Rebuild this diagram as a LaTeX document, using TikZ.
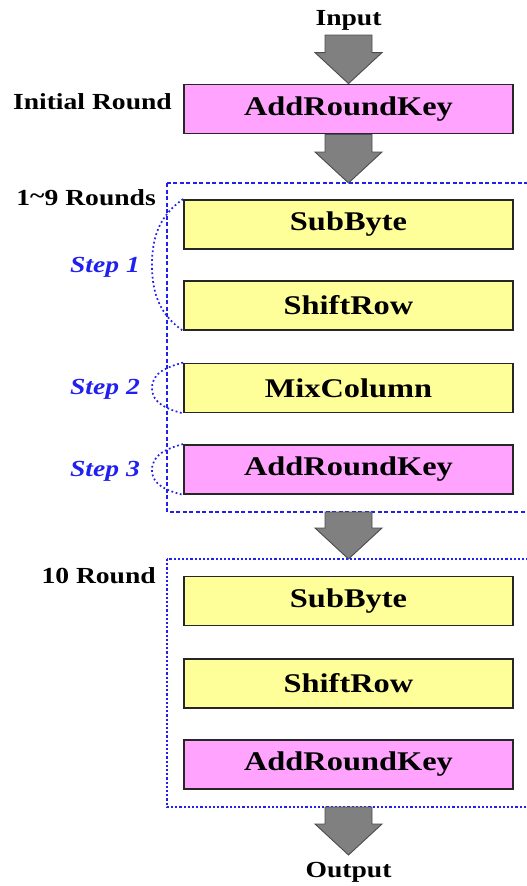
\documentclass[tikz,border=0pt]{standalone}
\usepackage{fontspec}
\setmainfont{Liberation Serif}[FakeStretch=1.2]
\usetikzlibrary{calc}
\definecolor{keypink}{HTML}{FFA3FF}
\definecolor{stepyellow}{HTML}{FFFF99}
\definecolor{arrowgray}{HTML}{808080}
\definecolor{framblue}{HTML}{2020F0}
\tikzset{
  opbox/.style={draw=black!85, line width=1.8pt, minimum width=329pt,
    minimum height=49pt, inner sep=0pt,
    font=\fontsize{27}{30}\selectfont\bfseries},
  keybox/.style={opbox, fill=keypink},
  stepbox/.style={opbox, fill=stepyellow},
  lbl/.style={font=\fontsize{23}{26}\selectfont\bfseries, inner sep=0pt},
  steplbl/.style={lbl, font=\fontsize{23}{26}\selectfont\bfseries\itshape, text=framblue},
  frame/.style={draw=framblue, line width=1.5pt, dash pattern=on 4pt off 2.5pt},
  frame2/.style={draw=framblue, line width=1.5pt, dash pattern=on 2.2pt off 2pt},
  brace/.style={draw=framblue, line width=1.7pt, dash pattern=on 1.8pt off 2.6pt},
  fatarrow/.style={fill=arrowgray, draw=black!70, line width=0.9pt, line join=miter}
}
% fat down arrow: #1 = top of shaft, #2 = tip
\newcommand\fatarrow[2]{%
  \draw[fatarrow] ($(#1)+(-23.5,0)$) -- ($(#1)+(23.5,0)$)
    -- ($(#2)+(23.5,-31)$) -- ($(#2)+(33.5,-31)$) -- (#2)
    -- ($(#2)+(-33.5,-31)$) -- ($(#2)+(-23.5,-31)$) -- cycle;}
\begin{document}
\begin{tikzpicture}[x=1pt, y=-1pt]
\useasboundingbox (0,0) rectangle (527,886);
\clip (0,0) rectangle (527,886);

% dashed round frames (they run past the right edge)
\draw[frame]  (167,183) rectangle (545,512);
\draw[frame2] (167,559) rectangle (545,807);

% operation boxes
\node[keybox]   (ark0) at (348.5,109)   {AddRoundKey};
\node[stepbox]  (sb1)  at (348.5,224.5) {SubByte};
\node[stepbox]  (sr1)  at (348.5,305.5) {ShiftRow};
\node[stepbox]  (mc1)  at (348.5,388)   {MixColumn};
\node[keybox]   (ark1) at (348.5,469.5) {AddRoundKey};
\node[stepbox]  (sb2)  at (348.5,601)   {SubByte};
\node[stepbox]  (sr2)  at (348.5,683.5) {ShiftRow};
\node[keybox]   (ark2) at (348.5,764.5) {AddRoundKey};

% labels
\node[lbl] (in)  at (348.5,20)  {Input};
\node[lbl] (out) at (348.5,872) {Output};
\node[lbl, anchor=east] (lr0)  at (172,102) {Initial Round};
\node[lbl, anchor=east] (lr1)  at (156,198) {1\raisebox{0.2ex}{\char`~}9 Rounds};
\node[lbl, anchor=east] (lr10) at (156,576) {10 Round};
\node[steplbl] (st1) at (105,267) {Step 1};
\node[steplbl] (st2) at (105,389) {Step 2};
\node[steplbl] (st3) at (105,471) {Step 3};

% dotted braces grouping the steps
\coordinate (b1) at (152,265);
\coordinate (b2) at (152,388);
\coordinate (b3) at (152,470);
\draw[brace] (sb1.north west) to[out=215,in=90] (b1) to[out=-90,in=145] (sr1.south west);
\draw[brace] (mc1.north west) to[out=195,in=90] (b2) to[out=-90,in=165] (mc1.south west);
\draw[brace] (ark1.north west) to[out=195,in=90] (b3) to[out=-90,in=165] (ark1.south west);

% flow arrows
\coordinate (a1) at (348.5,35);
\coordinate (a3) at (348.5,512);
\coordinate (a4) at (348.5,807);
\coordinate (t2) at (348.5,183);
\coordinate (t3) at (348.5,559);
\coordinate (t4) at (348.5,855);
\fatarrow{a1}{ark0.north}
\fatarrow{ark0.south}{t2}
\fatarrow{a3}{t3}
\fatarrow{a4}{t4}
\end{tikzpicture}
\end{document}
